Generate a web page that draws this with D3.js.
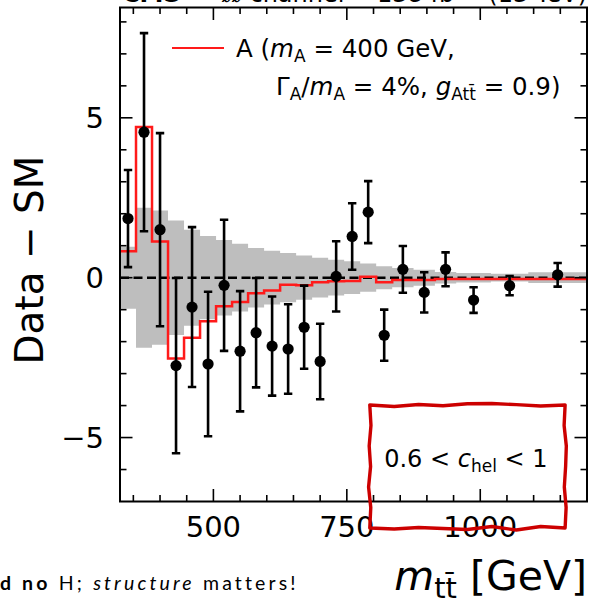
<!DOCTYPE html>
<html>
<head>
<meta charset="utf-8">
<script src="https://cdn.jsdelivr.net/npm/d3@7"></script>
<style>
  body { margin: 0; background: #fff; }
  svg { display: block; }
  text { font-family: "DejaVu Sans", sans-serif; fill: #000; }
</style>
</head>
<body>
<svg id="chart" width="591" height="604"></svg>
<script>
// m_tt bin edges in GeV (23 bins)
const binEdges = [325, 355, 385, 415, 445, 475, 505, 535, 565, 595, 625, 655, 685,
                  715, 745, 775, 805, 835, 875, 915, 955, 1020, 1090, 1200];

// Data − SM per bin, with statistical uncertainty
const dataValues = [1.85, 4.55, 1.50, -2.75, -0.92, -2.70, -0.24, -2.30, -1.72, -2.14, -2.23, -1.55,
                    -2.62, 0.04, 1.29, 2.05, -1.80, 0.26, -0.46, 0.26, -0.70, -0.25, 0.09];
const dataErrors = [1.52, 3.10, 3.02, 2.74, 2.50, 2.26, 2.05, 1.88, 1.71, 1.55, 1.40, 1.30,
                    1.18, 1.10, 1.04, 0.97, 0.80, 0.73, 0.63, 0.53, 0.40, 0.30, 0.37];

// A (m_A = 400 GeV, Γ/m = 4%, g = 0.9) signal minus SM
const signalA = [0.83, 4.71, 1.13, -2.53, -1.88, -1.36, -0.89, -0.76, -0.49, -0.40, -0.22, -0.24,
                 -0.14, -0.11, -0.10, 0.03, -0.14, -0.07, -0.07, -0.04, -0.04, -0.04, -0.04];

// SM uncertainty band (symmetric half-width)
const smUncertainty = [0.97, 2.19, 2.10, 1.79, 1.50, 1.30, 1.18, 1.06, 0.93, 0.84, 0.77, 0.69,
                       0.62, 0.56, 0.51, 0.44, 0.36, 0.30, 0.25, 0.18, 0.15, 0.12, 0.17];

// Axis ticks
const xMajorTicks = [500, 750, 1000];
const xMinorTicks = [350, 400, 450, 550, 600, 650, 700, 800, 850, 900, 950, 1050, 1100, 1150];
const yMajorTicks = [-5, 0, 5];
const yMinorTicks = [-6, -4, -3, -2, -1, 1, 2, 3, 4, 6, 7, 8];

const svg = d3.select("#chart");
const frame = { left: 120, right: 587, top: 7.5, bottom: 501.5 };

const x = d3.scaleLinear().domain([325, 1200]).range([frame.left, frame.right]);
const y = d3.scaleLinear().domain([-7, 8.45]).range([frame.bottom, frame.top]);

// Header line above the frame
const header = svg.append("g").attr("font-size", 24);
header.append("text").attr("x", 122).attr("y", 2).attr("font-weight", "bold").text("CMS");
header.append("text").attr("x", 222).attr("y", 2).text("ℓℓ channel");
header.append("text").attr("x", 377).attr("y", 2).text("138 fb⁻¹");
header.append("text").attr("x", frame.right).attr("y", 2).attr("text-anchor", "end").text("(13 TeV)");

svg.append("clipPath").attr("id", "plotClip")
  .append("rect")
  .attr("x", frame.left).attr("y", frame.top)
  .attr("width", frame.right - frame.left).attr("height", frame.bottom - frame.top);

const plot = svg.append("g").attr("clip-path", "url(#plotClip)");

// Step points helper: one point per left edge, plus the closing right edge
function stepPoints(values) {
  const pts = values.map((v, i) => ({ e: binEdges[i], v }));
  pts.push({ e: binEdges[binEdges.length - 1], v: values[values.length - 1] });
  return pts;
}

// SM uncertainty band
const bandArea = d3.area()
  .x(d => x(d.e))
  .y0(d => y(-d.v))
  .y1(d => y(d.v))
  .curve(d3.curveStepAfter);
plot.append("path")
  .datum(stepPoints(smUncertainty))
  .attr("d", bandArea)
  .attr("fill", "#bebebe");

// Zero reference
plot.append("line")
  .attr("x1", frame.left).attr("x2", frame.right)
  .attr("y1", y(0)).attr("y2", y(0))
  .attr("stroke", "#000").attr("stroke-width", 2.4)
  .attr("stroke-dasharray", "9,4.5");

// Signal step histogram
const stepLine = d3.line()
  .x(d => x(d.e))
  .y(d => y(d.v))
  .curve(d3.curveStepAfter);
plot.append("path")
  .datum(stepPoints(signalA))
  .attr("d", stepLine)
  .attr("fill", "none")
  .attr("stroke", "#ff1a1a")
  .attr("stroke-width", 2.5);

// Data points with error bars
const points = dataValues.map((v, i) => ({
  c: (binEdges[i] + binEdges[i + 1]) / 2, v, err: dataErrors[i]
}));
const pts = plot.append("g").selectAll("g").data(points).join("g");
pts.append("line")
  .attr("x1", d => x(d.c)).attr("x2", d => x(d.c))
  .attr("y1", d => y(d.v + d.err)).attr("y2", d => y(d.v - d.err))
  .attr("stroke", "#000").attr("stroke-width", 2.6);
[1, -1].forEach(s => {
  pts.append("line")
    .attr("x1", d => x(d.c) - 4.2).attr("x2", d => x(d.c) + 4.2)
    .attr("y1", d => y(d.v + s * d.err)).attr("y2", d => y(d.v + s * d.err))
    .attr("stroke", "#000").attr("stroke-width", 2.6);
});
pts.append("circle")
  .attr("cx", d => x(d.c)).attr("cy", d => y(d.v))
  .attr("r", 5.6).attr("fill", "#000");

// Frame
svg.append("rect")
  .attr("x", frame.left).attr("y", frame.top)
  .attr("width", frame.right - frame.left).attr("height", frame.bottom - frame.top)
  .attr("fill", "none").attr("stroke", "#000").attr("stroke-width", 2);

// Inward ticks on all four sides
const ticks = svg.append("g").attr("stroke", "#000").attr("stroke-width", 1.6);
function xTicks(vals, len) {
  vals.forEach(v => {
    ticks.append("line").attr("x1", x(v)).attr("x2", x(v))
      .attr("y1", frame.bottom).attr("y2", frame.bottom - len);
    ticks.append("line").attr("x1", x(v)).attr("x2", x(v))
      .attr("y1", frame.top).attr("y2", frame.top + len);
  });
}
function yTicks(vals, len) {
  vals.forEach(v => {
    ticks.append("line").attr("y1", y(v)).attr("y2", y(v))
      .attr("x1", frame.left).attr("x2", frame.left + len);
    ticks.append("line").attr("y1", y(v)).attr("y2", y(v))
      .attr("x1", frame.right).attr("x2", frame.right - len);
  });
}
xTicks(xMajorTicks, 12.5);
xTicks(xMinorTicks, 6.5);
yTicks(yMajorTicks, 12.5);
yTicks(yMinorTicks, 6.5);

// Tick labels
const fmt = v => (v < 0 ? "\u2212" + Math.abs(v) : String(v));
svg.append("g").attr("font-size", 29).attr("text-anchor", "middle")
  .selectAll("text").data(xMajorTicks).join("text")
  .attr("x", d => x(d)).attr("y", 537).text(fmt);
svg.append("g").attr("font-size", 29).attr("text-anchor", "end")
  .selectAll("text").data(yMajorTicks).join("text")
  .attr("x", 104).attr("y", d => y(d)).attr("dy", "0.36em").text(fmt);

// Axis titles
svg.append("text")
  .attr("transform", "translate(43,260) rotate(-90)")
  .attr("text-anchor", "middle").attr("font-size", 39)
  .text("Data \u2212 SM");

const xTitle = svg.append("text")
  .attr("x", frame.right).attr("y", 590)
  .attr("text-anchor", "end").attr("font-size", 41);
xTitle.append("tspan").attr("font-style", "italic").text("m");
xTitle.append("tspan").attr("font-size", 29).attr("dy", 8).text("tt\u0304");
xTitle.append("tspan").attr("dy", -8).text(" [GeV]");

// Legend
svg.append("line")
  .attr("x1", 172).attr("x2", 224).attr("y1", 48).attr("y2", 48)
  .attr("stroke", "#ff1a1a").attr("stroke-width", 2.2);
const leg1 = svg.append("text").attr("x", 236).attr("y", 57).attr("font-size", 24.5);
leg1.append("tspan").text("A (");
leg1.append("tspan").attr("font-style", "italic").text("m");
leg1.append("tspan").attr("font-size", 17).attr("dy", 5).text("A");
leg1.append("tspan").attr("dy", -5).text(" = 400 GeV,");
const leg2 = svg.append("text").attr("x", 276).attr("y", 95).attr("font-size", 24.5);
leg2.append("tspan").text("Γ");
leg2.append("tspan").attr("font-size", 17).attr("dy", 5).text("A");
leg2.append("tspan").attr("dy", -5).text("/");
leg2.append("tspan").attr("font-style", "italic").text("m");
leg2.append("tspan").attr("font-size", 17).attr("dy", 5).text("A");
leg2.append("tspan").attr("dy", -5).text(" = 4%, ");
leg2.append("tspan").attr("font-style", "italic").text("g");
leg2.append("tspan").attr("font-size", 17).attr("dy", 5).text("Att\u0304");
leg2.append("tspan").attr("dy", -5).text(" = 0.9)");

// Category label
const cat = svg.append("text").attr("x", x(820)).attr("y", 467).attr("font-size", 24);
cat.append("tspan").text("0.6 < ");
cat.append("tspan").attr("font-style", "italic").text("c");
cat.append("tspan").attr("font-size", 17).attr("dy", 5).text("hel");
cat.append("tspan").attr("dy", -5).text(" < 1");

// Hand-drawn highlight box around the category label
const boxX = [793, 1159], boxY = [-3.98, -7.83];
const x0 = x(boxX[0]), x1 = x(boxX[1]), y0 = y(boxY[0]), y1 = y(boxY[1]);
const wobTop = [0, 1.5, -0.5, 0.8, -1.2, -1.5, -0.3, 1.0, 0];
const wobRight = [0, -1.0, 1.2, 0.5, -0.8, 1.0, 0];
const wobBottom = [0, -1.5, 2.0, -1.5, 1.5, 0.5, -0.5, 1.0, 0];
const wobLeft = [0, 1.0, -1.2, 0.8, -0.6, 1.2, 0];
const boxPts = [];
wobTop.forEach((w, i) => boxPts.push([x0 + (x1 - x0) * i / (wobTop.length - 1), y0 + w]));
wobRight.forEach((w, i) => boxPts.push([x1 + w, y0 + (y1 - y0) * i / (wobRight.length - 1)]));
wobBottom.forEach((w, i) => boxPts.push([x1 - (x1 - x0) * i / (wobBottom.length - 1), y1 + w]));
wobLeft.forEach((w, i) => boxPts.push([x0 + w, y1 - (y1 - y0) * i / (wobLeft.length - 1)]));
svg.append("path")
  .attr("d", d3.line().curve(d3.curveLinearClosed)(boxPts))
  .attr("fill", "none").attr("stroke", "#cc0000")
  .attr("stroke-width", 3.4).attr("stroke-linejoin", "round");

// Slide footnote
const note = svg.append("text").attr("x", 0).attr("y", 590)
  .attr("font-size", 19.5).style("font-family", "Lato, sans-serif");
note.append("tspan").attr("font-weight", "bold").text("d no");
note.append("tspan").text(" H; ");
note.append("tspan").attr("font-style", "italic").text("structure");
note.append("tspan").text(" matters!");
const nw = note.node().getComputedTextLength();
const nChars = "d no H; structure matters!".length;
if (nw > 0 && nw < 298) note.attr("letter-spacing", (298 - nw) / nChars);
</script>
</body>
</html>
